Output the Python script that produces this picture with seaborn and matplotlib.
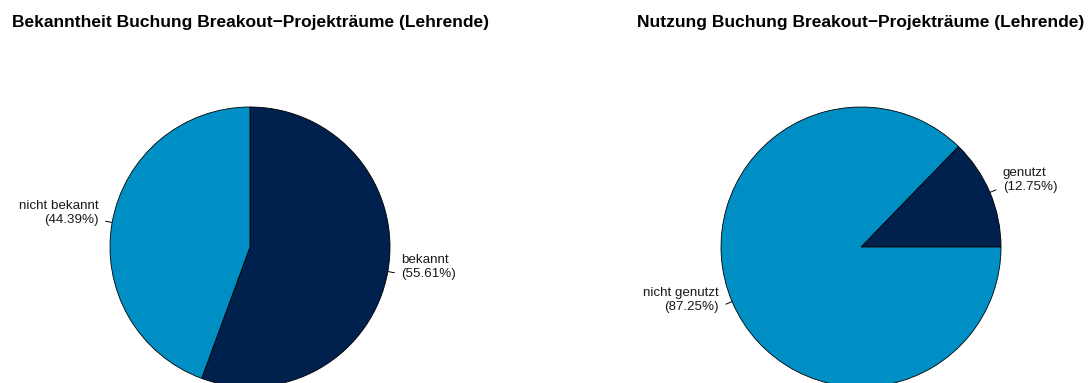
import numpy as np
import matplotlib
matplotlib.use("Agg")
import matplotlib.pyplot as plt
import seaborn as sns

# Survey results: awareness and usage of breakout/project room booking (teaching staff)
awareness_labels = ["bekannt", "nicht bekannt"]
awareness_pct = [55.61, 44.39]
usage_labels = ["genutzt", "nicht genutzt"]
usage_pct = [12.75, 87.25]
titles = ["Bekanntheit Buchung Breakout\u2212Projekträume (Lehrende)",
          "Nutzung Buchung Breakout\u2212Projekträume (Lehrende)"]

sns.set_theme(style="white")
plt.rcParams["font.family"] = ["Liberation Sans", "DejaVu Sans"]

dark, light = "#00214d", "#008fc4"

W, H = 1089, 383
fig = plt.figure(figsize=(W / 100, H / 100), dpi=100)
ax = fig.add_axes([0, 0, 1, 1])

R = 140
panels = [
    dict(vals=awareness_pct, labels=awareness_labels, center=(250, H - 247),
         start=90, ccw=False, title=titles[0]),
    dict(vals=usage_pct, labels=usage_labels, center=(861, H - 247),
         start=0, ccw=True, title=titles[1]),
]

for p in panels:
    wedges, _ = ax.pie(p["vals"], colors=[dark, light], startangle=p["start"],
                       counterclock=p["ccw"], center=p["center"], radius=R,
                       wedgeprops=dict(edgecolor="black", linewidth=0.6),
                       frame=True)
    cx, cy = p["center"]
    for w, lab, v in zip(wedges, p["labels"], p["vals"]):
        mid = np.deg2rad((w.theta1 + w.theta2) / 2)
        c, s = np.cos(mid), np.sin(mid)
        ax.plot([cx + R * c, cx + 1.05 * R * c], [cy + R * s, cy + 1.05 * R * s],
                color="black", lw=0.7, solid_capstyle="butt")
        tx, ty = cx + 1.1 * R * c, cy + 1.1 * R * s + 7
        side = "left" if c >= 0 else "right"
        ax.text(tx, ty, f"{lab}\n({v:.2f}%)", ha=side, va="center",
                multialignment=side, fontsize=9.6, color="#1a1a1a",
                linespacing=1.22)
    ax.text(cx, H - 22, p["title"], ha="center", va="center", fontsize=12.5,
            fontweight="bold", color="black")

ax.set_xlim(0, W)
ax.set_ylim(0, H)
ax.set_aspect("equal")
ax.axis("off")

fig.savefig("out.png", dpi=100)
